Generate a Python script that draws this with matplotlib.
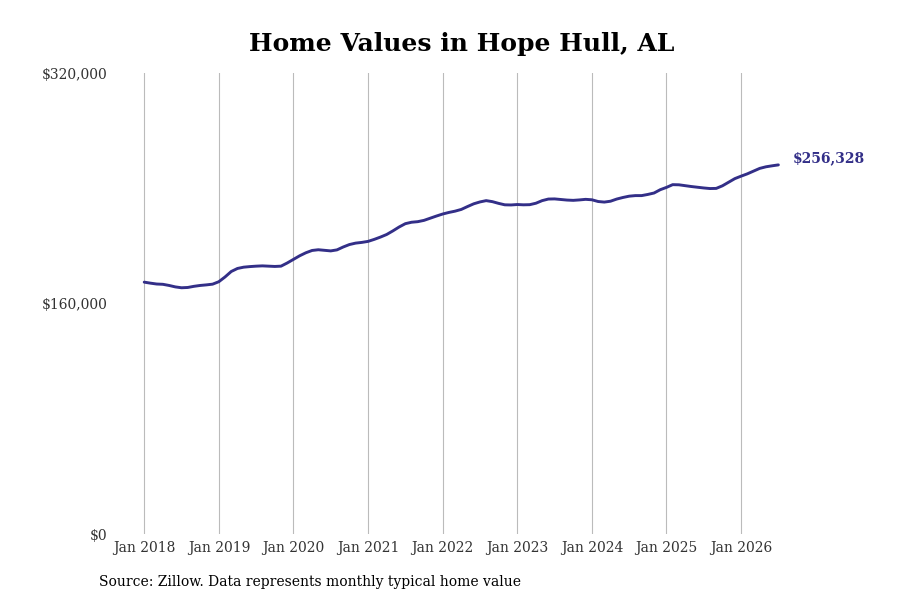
import numpy as np
import matplotlib.pyplot as plt

# monthly typical home value, Jan 2018 .. Jul 2026
values = [
    # 2018
    174900, 174200, 173600, 173400, 172600, 171600, 171000, 171200, 172000, 172600, 173000, 173500,
    # 2019
    175200, 178500, 182300, 184400, 185300, 185700, 186000, 186200, 186000, 185800, 186000, 188200,
    # 2020
    190700, 193200, 195300, 196900, 197400, 197000, 196600, 197300, 199300, 201000, 202000, 202500,
    # 2021
    203200, 204600, 206200, 208000, 210500, 213200, 215500, 216500, 216900, 217800, 219300, 220800,
    # 2022
    222200, 223300, 224200, 225400, 227400, 229300, 230600, 231500, 230800, 229600, 228600, 228500,
    # 2023
    228800, 228600, 228700, 229700, 231500, 232600, 232700, 232300, 231900, 231700, 232000, 232400,
    # 2024
    232100, 230900, 230500, 231100, 232600, 233700, 234600, 235000, 235000, 235800, 236800, 239100,
    # 2025
    240700, 242600, 242500, 241900, 241300, 240800, 240300, 239900, 240000, 241800, 244300, 246800,
    # 2026
    248500, 250100, 252000, 253900, 255000, 255700, 256328,
]
years = list(range(2018, 2027))
tick_labels = [f"Jan {y}" for y in years]

months = np.arange(len(values))
line_color = '#332f88'

plt.rcParams['font.family'] = ['DejaVu Serif']

fig = plt.figure(figsize=(9, 6), dpi=100)
ax = fig.add_axes([0.125, 0.11, 0.753, 0.768])

ax.plot(months, values, color=line_color, linewidth=2.1, solid_capstyle='round')

ax.set_ylim(0, 320000)
ax.set_xlim(-5.1, 103.9)
ax.set_yticks([0, 160000, 320000])
ax.set_yticklabels(['$0', '$160,000', '$320,000'])
ax.set_xticks([12 * i for i in range(len(years))])
ax.set_xticklabels(tick_labels)
ax.tick_params(axis='both', length=0, labelsize=10, labelcolor='#333333')
ax.tick_params(axis='y', pad=3.5)
ax.tick_params(axis='x', pad=5)

for s in ax.spines.values():
    s.set_visible(False)
ax.grid(axis='x', color='#bbbbbb', linewidth=0.8)
ax.set_axisbelow(True)

ax.annotate(f"${values[-1]:,}", xy=(months[-1], values[-1]), xytext=(10, 4.5),
            textcoords='offset points', color=line_color, fontsize=10,
            fontweight='bold', va='center', ha='left', annotation_clip=False)

fig.text(0.513, 0.926, 'Home Values in Hope Hull, AL', ha='center', va='center',
         fontsize=18, fontweight='bold')
fig.text(0.11, 0.03, 'Source: Zillow. Data represents monthly typical home value',
         ha='left', va='center', fontsize=10)

fig.savefig('out.png', dpi=100)
